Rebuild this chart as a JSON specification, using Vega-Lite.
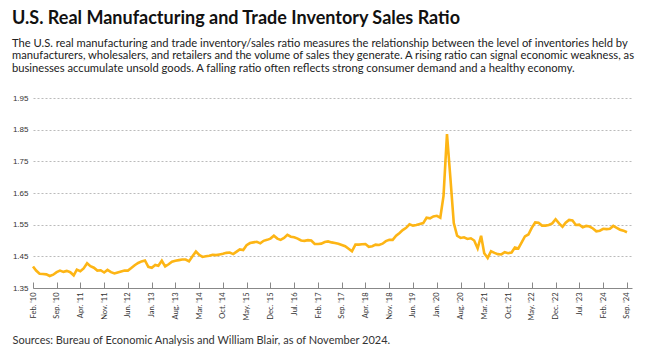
{
  "$schema": "https://vega.github.io/schema/vega-lite/v6.json",
  "width": 599,
  "height": 190,
  "padding": {"left": 12, "top": 9, "right": 5, "bottom": 5},
  "background": "white",
  "title": {
    "text": "U.S. Real Manufacturing and Trade Inventory Sales Ratio",
    "subtitle": [
      "The U.S. real manufacturing and trade inventory/sales ratio measures the relationship between the level of inventories held by",
      "manufacturers, wholesalers, and retailers and the volume of sales they generate. A rising ratio can signal economic weakness, as",
      "businesses accumulate unsold goods. A falling ratio often reflects strong consumer demand and a healthy economy."
    ],
    "anchor": "start",
    "frame": "bounds",
    "font": "Lato",
    "fontSize": 18,
    "fontWeight": "bold",
    "color": "#111111",
    "subtitleFont": "Lato",
    "subtitleFontSize": 11.2,
    "subtitleColor": "#222222",
    "subtitleLineHeight": 12.5,
    "subtitlePadding": 10,
    "offset": 20
  },
  "data": {
    "values": [
      {"d": "2010-02-01", "v": 1.418}, {"d": "2010-03-01", "v": 1.405}, {"d": "2010-04-01", "v": 1.395}, {"d": "2010-05-01", "v": 1.394}, {"d": "2010-06-01", "v": 1.393}, {"d": "2010-07-01", "v": 1.388}, {"d": "2010-08-01", "v": 1.392}, {"d": "2010-09-01", "v": 1.400}, {"d": "2010-10-01", "v": 1.405}, {"d": "2010-11-01", "v": 1.401}, {"d": "2010-12-01", "v": 1.404},
      {"d": "2011-01-01", "v": 1.400}, {"d": "2011-02-01", "v": 1.390}, {"d": "2011-03-01", "v": 1.408}, {"d": "2011-04-01", "v": 1.403}, {"d": "2011-05-01", "v": 1.412}, {"d": "2011-06-01", "v": 1.428}, {"d": "2011-07-01", "v": 1.419}, {"d": "2011-08-01", "v": 1.414}, {"d": "2011-09-01", "v": 1.405}, {"d": "2011-10-01", "v": 1.406}, {"d": "2011-11-01", "v": 1.399}, {"d": "2011-12-01", "v": 1.407},
      {"d": "2012-01-01", "v": 1.400}, {"d": "2012-02-01", "v": 1.396}, {"d": "2012-03-01", "v": 1.399}, {"d": "2012-04-01", "v": 1.402}, {"d": "2012-05-01", "v": 1.405}, {"d": "2012-06-01", "v": 1.405}, {"d": "2012-07-01", "v": 1.413}, {"d": "2012-08-01", "v": 1.422}, {"d": "2012-09-01", "v": 1.429}, {"d": "2012-10-01", "v": 1.434}, {"d": "2012-11-01", "v": 1.437}, {"d": "2012-12-01", "v": 1.417},
      {"d": "2013-01-01", "v": 1.414}, {"d": "2013-02-01", "v": 1.423}, {"d": "2013-03-01", "v": 1.420}, {"d": "2013-04-01", "v": 1.436}, {"d": "2013-05-01", "v": 1.418}, {"d": "2013-06-01", "v": 1.425}, {"d": "2013-07-01", "v": 1.433}, {"d": "2013-08-01", "v": 1.436}, {"d": "2013-09-01", "v": 1.438}, {"d": "2013-10-01", "v": 1.440}, {"d": "2013-11-01", "v": 1.440}, {"d": "2013-12-01", "v": 1.434},
      {"d": "2014-01-01", "v": 1.450}, {"d": "2014-02-01", "v": 1.465}, {"d": "2014-03-01", "v": 1.455}, {"d": "2014-04-01", "v": 1.448}, {"d": "2014-05-01", "v": 1.450}, {"d": "2014-06-01", "v": 1.452}, {"d": "2014-07-01", "v": 1.455}, {"d": "2014-08-01", "v": 1.454}, {"d": "2014-09-01", "v": 1.456}, {"d": "2014-10-01", "v": 1.458}, {"d": "2014-11-01", "v": 1.461}, {"d": "2014-12-01", "v": 1.462},
      {"d": "2015-01-01", "v": 1.457}, {"d": "2015-02-01", "v": 1.465}, {"d": "2015-03-01", "v": 1.472}, {"d": "2015-04-01", "v": 1.470}, {"d": "2015-05-01", "v": 1.485}, {"d": "2015-06-01", "v": 1.492}, {"d": "2015-07-01", "v": 1.494}, {"d": "2015-08-01", "v": 1.496}, {"d": "2015-09-01", "v": 1.491}, {"d": "2015-10-01", "v": 1.499}, {"d": "2015-11-01", "v": 1.502}, {"d": "2015-12-01", "v": 1.506},
      {"d": "2016-01-01", "v": 1.515}, {"d": "2016-02-01", "v": 1.506}, {"d": "2016-03-01", "v": 1.502}, {"d": "2016-04-01", "v": 1.508}, {"d": "2016-05-01", "v": 1.518}, {"d": "2016-06-01", "v": 1.512}, {"d": "2016-07-01", "v": 1.510}, {"d": "2016-08-01", "v": 1.506}, {"d": "2016-09-01", "v": 1.500}, {"d": "2016-10-01", "v": 1.499}, {"d": "2016-11-01", "v": 1.501}, {"d": "2016-12-01", "v": 1.500},
      {"d": "2017-01-01", "v": 1.489}, {"d": "2017-02-01", "v": 1.489}, {"d": "2017-03-01", "v": 1.490}, {"d": "2017-04-01", "v": 1.495}, {"d": "2017-05-01", "v": 1.497}, {"d": "2017-06-01", "v": 1.494}, {"d": "2017-07-01", "v": 1.492}, {"d": "2017-08-01", "v": 1.490}, {"d": "2017-09-01", "v": 1.486}, {"d": "2017-10-01", "v": 1.482}, {"d": "2017-11-01", "v": 1.474}, {"d": "2017-12-01", "v": 1.466},
      {"d": "2018-01-01", "v": 1.487}, {"d": "2018-02-01", "v": 1.487}, {"d": "2018-03-01", "v": 1.488}, {"d": "2018-04-01", "v": 1.489}, {"d": "2018-05-01", "v": 1.480}, {"d": "2018-06-01", "v": 1.482}, {"d": "2018-07-01", "v": 1.487}, {"d": "2018-08-01", "v": 1.486}, {"d": "2018-09-01", "v": 1.490}, {"d": "2018-10-01", "v": 1.498}, {"d": "2018-11-01", "v": 1.502}, {"d": "2018-12-01", "v": 1.502},
      {"d": "2019-01-01", "v": 1.515}, {"d": "2019-02-01", "v": 1.524}, {"d": "2019-03-01", "v": 1.533}, {"d": "2019-04-01", "v": 1.540}, {"d": "2019-05-01", "v": 1.551}, {"d": "2019-06-01", "v": 1.547}, {"d": "2019-07-01", "v": 1.549}, {"d": "2019-08-01", "v": 1.552}, {"d": "2019-09-01", "v": 1.555}, {"d": "2019-10-01", "v": 1.572}, {"d": "2019-11-01", "v": 1.570}, {"d": "2019-12-01", "v": 1.576},
      {"d": "2020-01-01", "v": 1.578}, {"d": "2020-02-01", "v": 1.572}, {"d": "2020-03-01", "v": 1.641}, {"d": "2020-04-01", "v": 1.836}, {"d": "2020-05-01", "v": 1.700}, {"d": "2020-06-01", "v": 1.555}, {"d": "2020-07-01", "v": 1.515}, {"d": "2020-08-01", "v": 1.508}, {"d": "2020-09-01", "v": 1.510}, {"d": "2020-10-01", "v": 1.505}, {"d": "2020-11-01", "v": 1.507}, {"d": "2020-12-01", "v": 1.500},
      {"d": "2021-01-01", "v": 1.475}, {"d": "2021-02-01", "v": 1.515}, {"d": "2021-03-01", "v": 1.460}, {"d": "2021-04-01", "v": 1.445}, {"d": "2021-05-01", "v": 1.466}, {"d": "2021-06-01", "v": 1.461}, {"d": "2021-07-01", "v": 1.457}, {"d": "2021-08-01", "v": 1.456}, {"d": "2021-09-01", "v": 1.463}, {"d": "2021-10-01", "v": 1.460}, {"d": "2021-11-01", "v": 1.462}, {"d": "2021-12-01", "v": 1.478},
      {"d": "2022-01-01", "v": 1.475}, {"d": "2022-02-01", "v": 1.495}, {"d": "2022-03-01", "v": 1.513}, {"d": "2022-04-01", "v": 1.519}, {"d": "2022-05-01", "v": 1.540}, {"d": "2022-06-01", "v": 1.557}, {"d": "2022-07-01", "v": 1.556}, {"d": "2022-08-01", "v": 1.547}, {"d": "2022-09-01", "v": 1.547}, {"d": "2022-10-01", "v": 1.549}, {"d": "2022-11-01", "v": 1.554}, {"d": "2022-12-01", "v": 1.567},
      {"d": "2023-01-01", "v": 1.554}, {"d": "2023-02-01", "v": 1.543}, {"d": "2023-03-01", "v": 1.556}, {"d": "2023-04-01", "v": 1.565}, {"d": "2023-05-01", "v": 1.563}, {"d": "2023-06-01", "v": 1.549}, {"d": "2023-07-01", "v": 1.550}, {"d": "2023-08-01", "v": 1.542}, {"d": "2023-09-01", "v": 1.546}, {"d": "2023-10-01", "v": 1.544}, {"d": "2023-11-01", "v": 1.538}, {"d": "2023-12-01", "v": 1.529},
      {"d": "2024-01-01", "v": 1.531}, {"d": "2024-02-01", "v": 1.537}, {"d": "2024-03-01", "v": 1.536}, {"d": "2024-04-01", "v": 1.537}, {"d": "2024-05-01", "v": 1.546}, {"d": "2024-06-01", "v": 1.540}, {"d": "2024-07-01", "v": 1.534}, {"d": "2024-08-01", "v": 1.531}, {"d": "2024-09-01", "v": 1.526}
    ]
  },
  "mark": {"type": "line", "color": "#FDB515", "strokeWidth": 2.6},
  "encoding": {
    "x": {
      "field": "d",
      "type": "temporal",
      "scale": {
        "type": "utc",
        "domain": [
          {"year": 2010, "month": 2, "date": 1, "utc": true},
          {"year": 2024, "month": 10, "date": 16, "utc": true}
        ]
      },
      "axis": {
        "values": [
          {"year": 2010, "month": 2, "date": 1, "utc": true},
          {"year": 2010, "month": 9, "date": 1, "utc": true},
          {"year": 2011, "month": 4, "date": 1, "utc": true},
          {"year": 2011, "month": 11, "date": 1, "utc": true},
          {"year": 2012, "month": 6, "date": 1, "utc": true},
          {"year": 2013, "month": 1, "date": 1, "utc": true},
          {"year": 2013, "month": 8, "date": 1, "utc": true},
          {"year": 2014, "month": 3, "date": 1, "utc": true},
          {"year": 2014, "month": 10, "date": 1, "utc": true},
          {"year": 2015, "month": 5, "date": 1, "utc": true},
          {"year": 2015, "month": 12, "date": 1, "utc": true},
          {"year": 2016, "month": 7, "date": 1, "utc": true},
          {"year": 2017, "month": 2, "date": 1, "utc": true},
          {"year": 2017, "month": 9, "date": 1, "utc": true},
          {"year": 2018, "month": 4, "date": 1, "utc": true},
          {"year": 2018, "month": 11, "date": 1, "utc": true},
          {"year": 2019, "month": 6, "date": 1, "utc": true},
          {"year": 2020, "month": 1, "date": 1, "utc": true},
          {"year": 2020, "month": 8, "date": 1, "utc": true},
          {"year": 2021, "month": 3, "date": 1, "utc": true},
          {"year": 2021, "month": 10, "date": 1, "utc": true},
          {"year": 2022, "month": 5, "date": 1, "utc": true},
          {"year": 2022, "month": 12, "date": 1, "utc": true},
          {"year": 2023, "month": 7, "date": 1, "utc": true},
          {"year": 2024, "month": 2, "date": 1, "utc": true},
          {"year": 2024, "month": 9, "date": 1, "utc": true}
        ],
        "labelExpr": "utcFormat(datum.value, \"%b. '%y\")",
        "labelAngle": -90,
        "labelFont": "Lato",
        "labelFontSize": 7.5,
        "labelColor": "#333333",
        "labelPadding": 10,
        "labelOverlap": false,
        "labelFlush": false,
        "grid": false,
        "domainColor": "#888888",
        "tickColor": "#888888",
        "tickSize": -6,
        "title": "Sources: Bureau of Economic Analysis and William Blair, as of November 2024.",
        "titleAnchor": "start",
        "titleAlign": "left",
        "titleX": -21,
        "titleFont": "Lato",
        "titleFontWeight": "normal",
        "titleFontSize": 11,
        "titleColor": "#333333",
        "titlePadding": 14
      }
    },
    "y": {
      "field": "v",
      "type": "quantitative",
      "scale": {"domain": [1.35, 1.95], "nice": false, "zero": false},
      "axis": {
        "values": [1.35, 1.45, 1.55, 1.65, 1.75, 1.85, 1.95],
        "format": ".2f",
        "title": null,
        "domain": false,
        "ticks": false,
        "gridDash": [2, 2],
        "gridColor": "#bbbbbb",
        "labelFont": "Liberation Sans",
        "labelFontSize": 8,
        "labelColor": "#333333",
        "labelPadding": 5
      }
    }
  },
  "config": {"view": {"stroke": null}}
}
